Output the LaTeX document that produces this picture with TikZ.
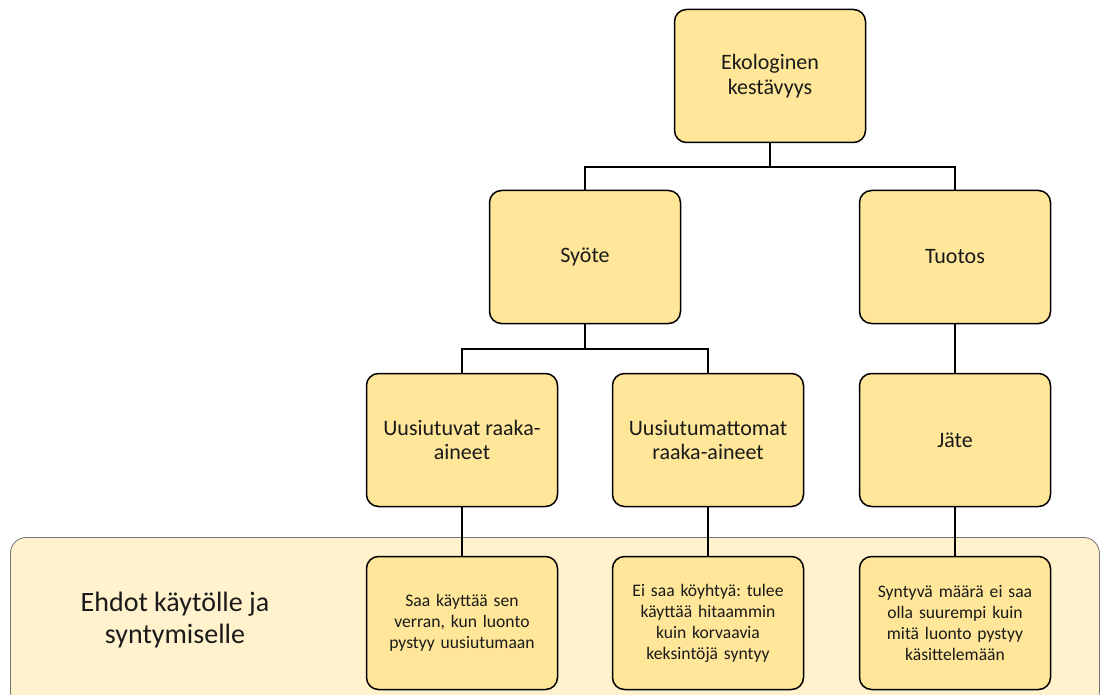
\documentclass[tikz,border=0pt]{standalone}
\usepackage{fontspec}
\setmainfont{Carlito}
\frenchspacing
\definecolor{boxfill}{HTML}{FFE699}
\definecolor{bandfill}{HTML}{FFF2CC}
\definecolor{txt}{HTML}{1A1A1A}
\begin{document}
\begin{tikzpicture}[x=1pt,y=-1pt,
  box/.style={draw=black,line width=1.5pt,fill=boxfill,rounded corners=12pt,
    minimum width=191pt,minimum height=133pt,align=center,text=txt,
    font=\fontsize{22}{24.5}\selectfont,inner sep=2pt},
  small/.style={box,font=\fontsize{17.6}{21}\selectfont,text width=185pt},
  conn/.style={draw=black,line width=1.5pt}]
\useasboundingbox (0,0) rectangle (1103,695);
\node[draw=black!55,line width=0.8pt,fill=bandfill,rounded corners=16pt,
  minimum width=1089pt,minimum height=170pt,anchor=north west] (band) at (10,537) {};
\node[align=center,text=txt,font=\fontsize{28}{32}\selectfont] (lbl) at (175,620) {Ehdot käytölle ja\\syntymiselle};
\node[box] (eko) at (770,76) {Ekologinen\\kestävyys};
\node[box] (syote) at (585,257) {Syöte};
\node[box] (tuotos) at (955,257) {Tuotos};
\node[box] (uus) at (462,440) {Uusiutuvat raaka-\\aineet};
\node[box] (uusm) at (708,440) {Uusiutumattomat\\raaka-aineet};
\node[box] (jate) at (955,440) {Jäte};
\node[small] (c1) at (462,623) {Saa käyttää sen\\verran, kun luonto\\pystyy uusiutumaan};
\node[small] (c2) at (708,623) {Ei saa köyhtyä: tulee\\käyttää hitaammin\\kuin korvaavia\\keksintöjä syntyy};
\node[small] (c3) at (955,623) {Syntyvä määrä ei saa\\olla suurempi kuin\\mitä luonto pystyy\\käsittelemään};
\coordinate (j1) at (770,167);
\coordinate (j2) at (585,349);
\draw[conn] (eko.south) -- (j1);
\draw[conn] (syote.north) |- (j1) -| (tuotos.north);
\draw[conn] (syote.south) -- (j2);
\draw[conn] (uus.north) |- (j2) -| (uusm.north);
\draw[conn] (tuotos.south) -- (jate.north);
\draw[conn] (uus.south) -- (c1.north);
\draw[conn] (uusm.south) -- (c2.north);
\draw[conn] (jate.south) -- (c3.north);
\end{tikzpicture}
\end{document}
